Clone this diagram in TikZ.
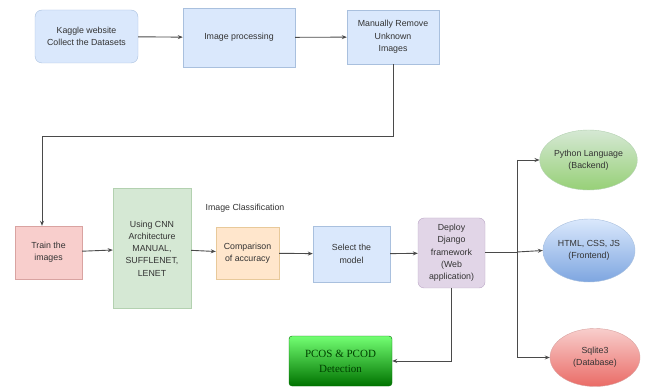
\documentclass[tikz,border=0pt]{standalone}
\usepackage{fontspec}
\setmainfont{Liberation Sans}
\newfontfamily\pcosfont{Liberation Serif}
\usepackage{xcolor}
\usepackage{tikz}
\usetikzlibrary{arrows.meta,positioning,shapes.geometric}
\definecolor{BlueFill}{HTML}{DAE8FC}
\definecolor{BlueLine}{HTML}{A9C0DE}
\definecolor{BlueDeep}{HTML}{7EA6E0}
\definecolor{GreenFill}{HTML}{D5E8D4}
\definecolor{GreenLine}{HTML}{B3D1B0}
\definecolor{GreenDeep}{HTML}{97D077}
\definecolor{RedFill}{HTML}{F8CECC}
\definecolor{RedLine}{HTML}{D9A3A1}
\definecolor{RedDeep}{HTML}{EA6B66}
\definecolor{OrangeFill}{HTML}{FFE6CC}
\definecolor{OrangeLine}{HTML}{E8C99A}
\definecolor{PurpleFill}{HTML}{E1D5E7}
\definecolor{PurpleLine}{HTML}{BBA6C6}
\definecolor{Wire}{HTML}{4A4A4A}

\begin{document}
\begin{tikzpicture}[x=1pt,y=-1pt,font=\fontsize{8.8}{12.3}\selectfont,>={Stealth[length=5pt,width=4pt]},
  box/.style={draw,align=center,inner sep=2pt,text=black!80},
  blubox/.style={box,draw=BlueLine,fill=BlueFill},
  oval/.style={ellipse,draw=#1,align=center,inner sep=0pt,text=black!80},
  wire/.style={draw=Wire,line width=0.9pt}]
  \useasboundingbox (0,0) rectangle (645,387);
  % top row
  \node[blubox,rounded corners=7pt,minimum width=103pt,minimum height=53pt] (kag) at (86.5,36.5)
    {Kaggle website\\Collect the Datasets};
  \node[blubox,minimum width=112pt,minimum height=59pt] (proc) at (239,37.5) {Image processing};
  \node[blubox,minimum width=92pt,minimum height=54pt] (rem) at (393,37)
    {Manually Remove\\Unknown\\Images};
  % middle row
  \node[box,draw=RedLine,fill=RedFill,minimum width=67pt,minimum height=53pt] (train) at (48.5,252.5)
    {Train the\\images};
  \node[box,draw=GreenLine,fill=GreenFill,minimum width=78pt,minimum height=120pt] (cnn) at (152,248.5)
    {Using CNN\\Architecture\\MANUAL,\\SUFFLENET,\\LENET};
  \node[box,draw=OrangeLine,fill=OrangeFill,minimum width=63pt,minimum height=52pt] (comp) at (247.5,253)
    {Comparison\\of accuracy};
  \node[text=black!80] (cls) at (245,208) {Image Classification};
  \node[blubox,minimum width=77pt,minimum height=56pt] (sel) at (351.5,254) {Select the\\model};
  \node[box,draw=PurpleLine,fill=PurpleFill,rounded corners=6pt,minimum width=67pt,minimum height=70pt] (dep) at (451.5,253)
    {Deploy\\Django\\framework\\(Web\\application)};
  % right side
  \node[oval=GreenLine,top color=GreenFill,bottom color=GreenDeep,minimum width=88pt,minimum height=60pt] (py) at (588.5,160)
    {Python Language\\(Backend)};
  \node[oval=BlueLine,top color=BlueFill,bottom color=BlueDeep,minimum width=92pt,minimum height=63pt] (web) at (589,250.5)
    {HTML, CSS, JS\\(Frontend)};
  \node[oval=RedLine,top color=RedFill,bottom color=RedDeep,minimum width=90pt,minimum height=58pt] (db) at (595,357.5)
    {Sqlite3\\(Database)};
  \node[draw=green!45!black,rounded corners=3pt,top color=green!55!white,bottom color=green!45!black,
    minimum width=103pt,minimum height=50pt,align=center,font=\pcosfont\fontsize{11}{15}\selectfont,text=black!75!green] (pcos) at (340.5,361)
    {PCOS \& PCOD\\Detection};
  \coordinate (hub) at (517,252);
  \coordinate (turn) at (42,136);
  % connectors
  \draw[wire,->] (kag) -- (proc);
  \draw[wire,->] (proc) -- (rem);
  \draw[wire,->] (rem.south) |- (turn) -- (turn |- train.north);
  \draw[wire,->] (train) -- (cnn);
  \draw[wire,->] (cnn) -- (comp);
  \draw[wire,->] (comp) -- (sel);
  \draw[wire,->] (sel) -- (dep);
  \draw[wire] (dep.east |- hub) -- (hub);
  \draw[wire] (hub |- py.west) -- (hub |- db.west);
  \draw[wire,->] (hub |- py.west) -- (py.west);
  \draw[wire,->] (hub) -- (web.west);
  \draw[wire,->] (hub |- db.west) -- (db.west);
  \draw[wire,->] (dep.south) |- (pcos.east);
\end{tikzpicture}
\end{document}
